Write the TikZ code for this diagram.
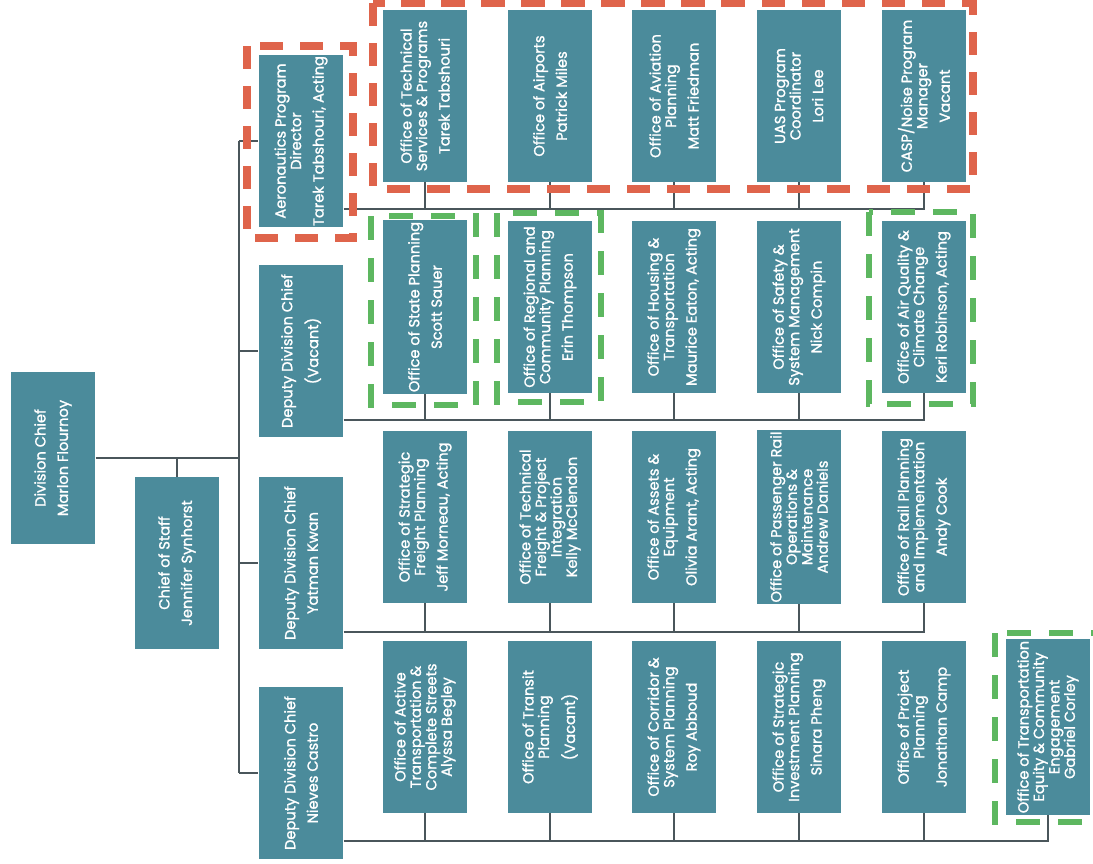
\documentclass[tikz,border=0pt]{standalone}
\usepackage{fontspec}
\setmainfont{Poppins}
\newfontfamily\unitfont{Poppins}[FakeBold=1.3]
\definecolor{boxteal}{HTML}{4B8B9B}
\definecolor{linegray}{HTML}{4A565B}
\definecolor{dashred}{HTML}{DF644B}
\definecolor{dashgreen}{HTML}{5DB760}
\tikzset{
    unitbox/.style={fill=boxteal, text=white, rotate=90, align=center,
        minimum width=4.3cm, minimum height=2.12cm, inner sep=1pt,
        font=\unitfont\fontsize{10.4}{11}\selectfont},
    link/.style={draw=linegray, line width=1.3pt},
    redzone/.style={draw=dashred, line width=5pt, dash pattern=on 0.58cm off 0.42cm},
    greenzone/.style={draw=dashgreen, line width=4.3pt, dash pattern=on 0.6cm off 0.45cm}
}
\begin{document}
\begin{tikzpicture}[x=0.025cm, y=-0.025cm]
    \useasboundingbox (0, 0) rectangle (1093, 863);

    % chiefs and deputies
    \node[unitbox] (dc) at (53, 458){Division Chief\\[5pt]Marlon Flournoy};
    \node[unitbox] (cos) at (177, 563){Chief of Staff\\[5pt]Jennifer Synhorst};
    \node[unitbox] (aero) at (301, 141){Aeronautics Program\\Director\\[5pt]Tarek Tabshouri, Acting};
    \node[unitbox] (dv) at (301, 351){Deputy Division Chief\\[5pt](Vacant)};
    \node[unitbox] (dy) at (301, 563){Deputy Division Chief\\[5pt]Yatman Kwan};
    \node[unitbox] (dn) at (301, 773){Deputy Division Chief\\[5pt]Nieves Castro};

    % aeronautics row
        \node[unitbox] (a1) at (425, 96){Office of Technical\\Services \& Programs\\[5pt]Tarek Tabshouri};
        \node[unitbox] (a2) at (550, 96){Office of Airports\\[5pt]Patrick Miles};
        \node[unitbox] (a3) at (674, 96){Office of Aviation\\Planning\\[5pt]Matt Friedman};
        \node[unitbox] (a4) at (799, 96){UAS Program\\Coordinator\\[5pt]Lori Lee};
        \node[unitbox] (a5) at (924, 96){CASP/Noise Program\\Manager\\[5pt]Vacant};

    % vacant deputy row
        \node[unitbox] (v1) at (425, 307){Office of State Planning\\[5pt]Scott Sauer};
        \node[unitbox] (v2) at (550, 307){Office of Regional and\\Community Planning\\[5pt]Erin Thompson};
        \node[unitbox] (v3) at (674, 307){Office of Housing \&\\Transportation\\[5pt]Maurice Eaton, Acting};
        \node[unitbox] (v4) at (799, 307){Office of Safety \&\\System Management\\[5pt]Nick Compin};
        \node[unitbox] (v5) at (924, 307){Office of Air Quality \&\\Climate Change\\[5pt]Keri Robinson, Acting};

    % kwan row
        \node[unitbox] (k1) at (425, 517){Office of Strategic\\Freight Planning\\[5pt]Jeff Morneau, Acting};
        \node[unitbox] (k2) at (550, 517){Office of Technical\\Freight \& Project\\Integration\\Kelly McClendon};
        \node[unitbox] (k3) at (674, 517){Office of Assets \&\\Equipment\\[5pt]Olivia Arant, Acting};
        \node[unitbox] (k4) at (799, 517){Office of Passenger Rail\\Operations \&\\Maintenance\\Andrew Daniels};
        \node[unitbox] (k5) at (924, 517){Office of Rail Planning\\and Implementation\\[5pt]Andy Cook};

    % castro row
        \node[unitbox] (n1) at (425, 727){Office of Active\\Transportation \&\\Complete Streets\\Alyssa Begley};
        \node[unitbox] (n2) at (550, 727){Office of Transit\\Planning\\[5pt](Vacant)};
        \node[unitbox] (n3) at (674, 727){Office of Corridor \&\\System Planning\\[5pt]Roy Abboud};
        \node[unitbox] (n4) at (799, 727){Office of Strategic\\Investment Planning\\[5pt]Sinara Pheng};
        \node[unitbox] (n5) at (924, 727){Office of Project\\Planning\\[5pt]Jonathan Camp};
        \node[unitbox] (n6) at (1048, 727){Office of Transportation\\Equity \& Community\\Engagement\\Gabriel Corley};

    \coordinate (spine) at (239, 0);
    \coordinate (bus1) at (0, 209);
    \coordinate (bus2) at (0, 420);
    \coordinate (bus3) at (0, 632);
    \coordinate (bus4) at (0, 841);

    \draw[link] (dc.south) -- (dc.south -| spine);
    \draw[link] (cos.east) -- (cos.east |- dc.south);
    \draw[link] (aero.north -| spine) -- (dn.north -| spine);
    \foreach \d in {aero, dv, dy, dn}
        \draw[link] (\d.north -| spine) -- (\d.north);

    \draw[link] (aero.south |- bus1) -- (a5.west |- bus1) -- (a5.west);
    \draw[link] (dv.south |- bus2) -- (v5.west |- bus2) -- (v5.west);
    \draw[link] (dy.south |- bus3) -- (k5.west |- bus3) -- (k5.west);
    \draw[link] (dn.south |- bus4) -- (n6.west |- bus4) -- (n6.west);
    \foreach \k in {1,...,4}{
        \draw[link] (a\k.west) -- (a\k.west |- bus1);
        \draw[link] (v\k.west) -- (v\k.west |- bus2);
        \draw[link] (k\k.west) -- (k\k.west |- bus3);
    }
    \foreach \k in {1,...,5}
        \draw[link] (n\k.west) -- (n\k.west |- bus4);

    % highlighted units
    \draw[redzone] (247, 46) rectangle (353, 238);
    \draw[redzone] (373, 3) rectangle (973, 189);
    \draw[greenzone] (371, 216) rectangle (476, 405);
    \draw[greenzone] (497, 213) rectangle (601, 402);
    \draw[greenzone] (869, 212) rectangle (973, 404);
    \draw[greenzone] (995, 633) rectangle (1097, 822);
\end{tikzpicture}
\end{document}
